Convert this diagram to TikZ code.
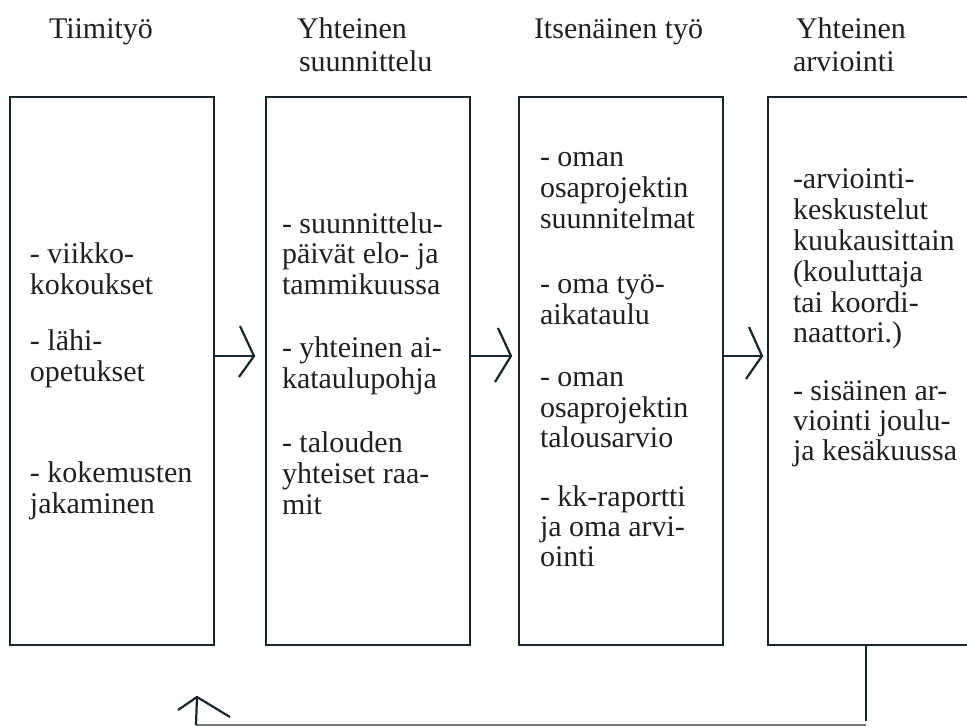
\documentclass[tikz,border=0pt]{standalone}
\usepackage{fontspec}
\setmainfont{Liberation Serif}
\definecolor{linec}{RGB}{24,38,44}
\definecolor{grayl}{RGB}{112,120,122}
\definecolor{txtc}{RGB}{35,31,32}
\begin{document}
\begin{tikzpicture}[x=1pt,y=-1pt,
  box/.style={draw=linec,line width=2.4pt,rectangle,inner sep=0pt,outer sep=0pt,minimum width=204pt,minimum height=548pt},
  txt/.style={anchor=base west,inner sep=0pt,outer sep=0pt,text=txtc,font=\fontsize{30}{30.5}\selectfont},
  conn/.style={draw=linec,line width=2.2pt},
  chev/.style={draw=linec,line width=2.2pt,line join=miter},
  back/.style={draw=grayl,line width=1.4pt}
]
\useasboundingbox (0,0) rectangle (967,726);
\clip (0,0) rectangle (967,726);

% titles
\node[txt] (h1) at (49,38) {Tiimityö};
\node[txt] (h2a) at (297,38) {Yhteinen};
\node[txt] (h2b) at (299,71) {suunnittelu};
\node[txt] (h3) at (534,38) {Itsenäinen työ};
\node[txt] (h4a) at (796,38) {Yhteinen};
\node[txt] (h4b) at (793,71) {arviointi};

% boxes
\node[box] (b1) at (112,371) {};
\node[box] (b2) at (368,371) {};
\node[box] (b3) at (621,371) {};
\node[box] (b4) at (870,371) {};

% box 1 text
\node[txt] (t11) at (30,263) {- viikko-};
\node[txt] (t12) at (30,294) {kokoukset};
\node[txt] (t13) at (30,350) {- lähi-};
\node[txt] (t14) at (30,381) {opetukset};
\node[txt] (t15) at (30,482) {- kokemusten};
\node[txt] (t16) at (30,513) {jakaminen};

% box 2 text
\node[txt] (t21) at (282,233) {- suunnittelu-};
\node[txt] (t22) at (282,263) {päivät elo- ja};
\node[txt] (t23) at (282,294) {tammikuussa};
\node[txt] (t24) at (282,357) {- yhteinen ai-};
\node[txt] (t25) at (282,388) {kataulupohja};
\node[txt] (t26) at (282,452) {- talouden};
\node[txt] (t27) at (282,483) {yhteiset raa-};
\node[txt] (t28) at (282,514) {mit};

% box 3 text
\node[txt] (t31) at (540,166) {- oman};
\node[txt] (t32) at (540,197) {osaprojektin};
\node[txt] (t33) at (540,228) {suunnitelmat};
\node[txt] (t34) at (540,293) {- oma työ-};
\node[txt] (t35) at (540,324) {aikataulu};
\node[txt] (t36) at (540,386) {- oman};
\node[txt] (t37) at (540,417) {osaprojektin};
\node[txt] (t38) at (540,447) {talousarvio};
\node[txt] (t39) at (540,506) {- kk-raportti};
\node[txt] (t310) at (540,536) {ja oma arvi-};
\node[txt] (t311) at (540,566) {ointi};

% box 4 text
\node[txt] (t41) at (793,188) {-arviointi-};
\node[txt] (t42) at (793,219) {keskustelut};
\node[txt] (t43) at (793,250) {kuukausittain};
\node[txt] (t44) at (793,281) {(kouluttaja};
\node[txt] (t45) at (793,312) {tai koordi-};
\node[txt] (t46) at (793,342) {naattori.)};
\node[txt] (t47) at (793,400) {- sisäinen ar-};
\node[txt] (t48) at (793,430) {viointi joulu-};
\node[txt] (t49) at (793,460) {ja kesäkuussa};

% forward arrows
\coordinate (p1) at (254,356);
\draw[conn] (b1.east |- p1) -- (p1);
\draw[chev] ([shift={(-14,-30)}]p1) -- (p1) -- ([shift={(-15,21)}]p1);

\coordinate (p2) at (511,356);
\draw[conn] (b2.east |- p2) -- (p2);
\draw[chev] ([shift={(-13,-28)}]p2) -- (p2) -- ([shift={(-16,26)}]p2);

\coordinate (p3) at (762,356);
\draw[conn] (b3.east |- p3) -- (p3);
\draw[chev] ([shift={(-13,-29)}]p3) -- (p3) -- ([shift={(-16,23)}]p3);

% feedback loop
\coordinate (fr) at (866,725);
\coordinate (frd) at (866,721);
\coordinate (fl) at (196,725);
\coordinate (ft) at (197,697);
\draw[conn] (b4.south -| fr) -- (frd);
\draw[back] (fr) -- (fl);
\draw[conn] (fl) -- (ft);
\draw[chev] ([shift={(-19,13)}]ft) -- (ft) -- ([shift={(33,20)}]ft);
\end{tikzpicture}
\end{document}
